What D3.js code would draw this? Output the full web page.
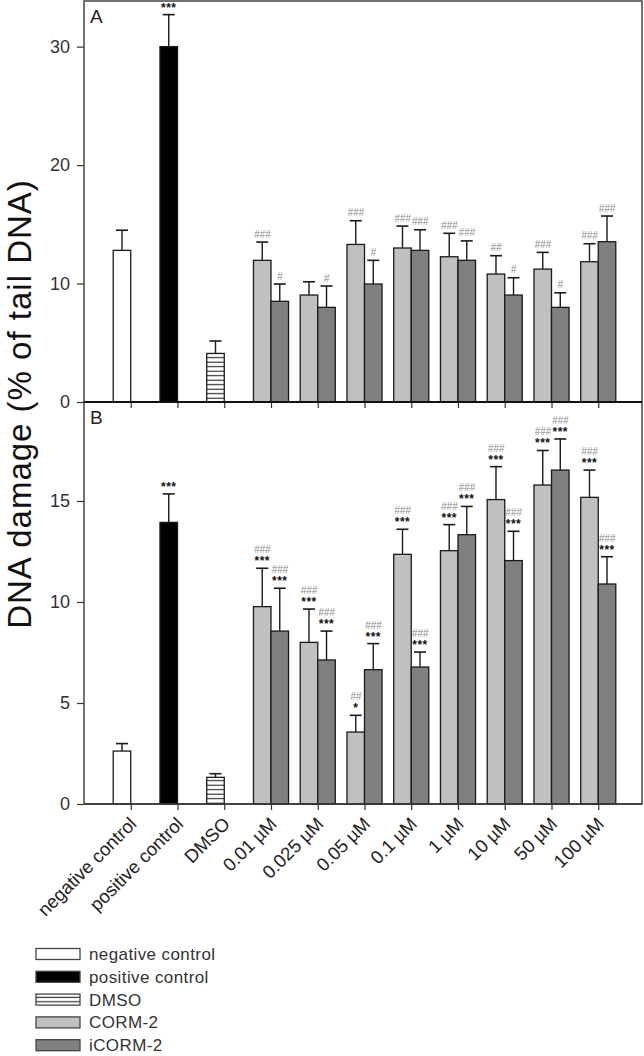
<!DOCTYPE html>
<html><head><meta charset="utf-8">
<script src="https://cdn.jsdelivr.net/npm/d3@7"></script>
<style>
body{margin:0;background:#fff}
svg{display:block}
text{font-family:"Liberation Sans",Arial,Helvetica,sans-serif}
</style>
</head><body>
<svg id="chart" width="644" height="1056"></svg>
<script>
// ---------------- data ----------------
const categories = ["negative control","positive control","DMSO","0.01 µM","0.025 µM","0.05 µM","0.1 µM","1 µM","10 µM","50 µM","100 µM"];
const controls = ["negative control","positive control","DMSO"];
const concentrations = ["0.01 µM","0.025 µM","0.05 µM","0.1 µM","1 µM","10 µM","50 µM","100 µM"];

// Panel A
const controlsA = [12.8, 30.0, 4.1];
const controlsA_err = [1.7, 2.7, 1.05];
const controlsA_stars = ["", "***", ""];
const cormA = [11.96, 9.03, 13.3, 13.0, 12.26, 10.8, 11.22, 11.84];
const cormA_err = [1.54, 1.12, 2.0, 1.85, 1.98, 1.55, 1.41, 1.52];
const cormA_hash = ["###", "", "###", "###", "###", "##", "###", "###"];
const icormA = [8.5, 7.99, 9.96, 12.8, 11.96, 9.03, 7.99, 13.53];
const icormA_err = [1.46, 1.8, 2.0, 1.74, 1.64, 1.46, 1.23, 2.17];
const icormA_hash = ["#", "#", "#", "###", "###", "#", "#", "###"];
const ticksA = [0, 10, 20, 30];

// Panel B
const controlsB = [2.62, 13.94, 1.32];
const controlsB_err = [0.37, 1.41, 0.18];
const controlsB_stars = ["", "***", ""];
const cormB = [9.77, 8.0, 3.56, 12.36, 12.54, 15.07, 15.79, 15.18];
const cormB_err = [1.9, 1.65, 0.83, 1.24, 1.29, 1.63, 1.71, 1.35];
const cormB_stars = ["***", "***", "*", "***", "***", "***", "***", "***"];
const cormB_hash = ["###", "###", "##", "###", "###", "###", "###", "###"];
const icormB = [8.56, 7.13, 6.65, 6.78, 13.33, 12.05, 16.53, 10.89];
const icormB_err = [2.12, 1.43, 1.29, 0.74, 1.4, 1.45, 1.54, 1.35];
const icormB_stars = ["***", "***", "***", "***", "***", "***", "***", "***"];
const icormB_hash = ["###", "###", "###", "###", "###", "###", "###", "###"];
const ticksB = [0, 5, 10, 15];

const legendLabels = ["negative control","positive control","DMSO","CORM-2","iCORM-2"];

// ---------------- styles ----------------
const fills = {neg:"#ffffff", pos:"#000000", dmso:"url(#stripes)", corm:"#c0c0c0", icorm:"#808080"};
const controlFills = [fills.neg, fills.pos, fills.dmso];
const legendFills = [fills.neg, fills.pos, fills.dmso, fills.corm, fills.icorm];

const svg = d3.select("#chart");
const defs = svg.append("defs");
const pat = defs.append("pattern").attr("id","stripes").attr("patternUnits","userSpaceOnUse")
  .attr("width", 10).attr("height", 4.5);
pat.append("rect").attr("width",10).attr("height",4.5).attr("fill","#fff");
pat.append("line").attr("x1",0).attr("x2",10).attr("y1",2.2).attr("y2",2.2)
  .attr("stroke","#222").attr("stroke-width",1.1);

const left = 84, right = 642;
const x = d3.scalePoint().domain(categories).range([left, 645]).padding(1);
const bw = x.step() * 0.375;

const yA = d3.scaleLinear().domain([0, 33.85]).range([402, 1]);
const yB = d3.scaleLinear().domain([0, 19.9]).range([804, 402]);

function buildBars(ctrl, ctrlErr, ctrlStars, corm, cormErr, cormStars, cormHash, icorm, icormErr, icormStars, icormHash) {
  const bars = [];
  controls.forEach((c, i) => bars.push({cat:c, slot:0, v:ctrl[i], e:ctrlErr[i], fill:controlFills[i], stars:ctrlStars[i], hash:""}));
  concentrations.forEach((c, i) => {
    bars.push({cat:c, slot:0, v:corm[i], e:cormErr[i], fill:fills.corm, stars:cormStars ? cormStars[i] : "", hash:cormHash[i]});
    bars.push({cat:c, slot:1, v:icorm[i], e:icormErr[i], fill:fills.icorm, stars:icormStars ? icormStars[i] : "", hash:icormHash[i]});
  });
  return bars;
}

function drawPanel(y, bars, ticks, label) {
  const g = svg.append("g");
  const bx = d => x(d.cat) - (d.slot === 0 ? bw : 0);
  g.selectAll("rect.bar").data(bars).join("rect")
    .attr("x", bx).attr("width", bw)
    .attr("y", d => y(d.v)).attr("height", d => y(0) - y(d.v))
    .attr("fill", d => d.fill).attr("stroke", "#1a1a1a").attr("stroke-width", 1.3);
  // error bars
  const eb = g.selectAll("g.err").data(bars).join("g");
  eb.append("line").attr("x1", d => bx(d) + bw/2).attr("x2", d => bx(d) + bw/2)
    .attr("y1", d => y(d.v)).attr("y2", d => y(d.v + d.e))
    .attr("stroke", "#1a1a1a").attr("stroke-width", 1.4);
  eb.append("line").attr("x1", d => bx(d) + bw/2 - 6).attr("x2", d => bx(d) + bw/2 + 6)
    .attr("y1", d => y(d.v + d.e)).attr("y2", d => y(d.v + d.e))
    .attr("stroke", "#1a1a1a").attr("stroke-width", 1.6);
  // significance labels
  eb.filter(d => d.stars).append("text")
    .attr("x", d => bx(d) + bw/2).attr("y", d => y(d.v + d.e) - 3)
    .attr("text-anchor", "middle").attr("font-size", 12).attr("font-weight", "bold")
    .attr("letter-spacing", 0.5).attr("fill", "#111").text(d => d.stars);
  eb.filter(d => d.hash).append("text")
    .attr("x", d => bx(d) + bw/2).attr("y", d => y(d.v + d.e) - (d.stars ? 15 : 4.5))
    .attr("text-anchor", "middle").attr("font-size", 10).attr("font-style", "italic")
    .attr("fill", "#8c8c8c").text(d => d.hash);
  // y axis
  const ya = g.append("g").attr("transform", `translate(${left},0)`)
    .call(d3.axisLeft(y).tickValues(ticks).tickSize(7).tickPadding(7).tickSizeOuter(0));
  ya.select(".domain").remove();
  ya.selectAll(".tick line").attr("stroke", "#333").attr("stroke-width", 1.2);
  ya.selectAll(".tick text").attr("font-size", 18).attr("fill", "#333")
    .attr("font-family", "'Liberation Sans',Arial,sans-serif");
  // x axis ticks
  const xa = g.append("g").attr("transform", `translate(0,${y(0)})`)
    .call(d3.axisBottom(x).tickSize(6).tickFormat(""));
  xa.select(".domain").remove();
  xa.selectAll(".tick line").attr("stroke", "#333").attr("stroke-width", 1.2);
  // panel letter
  g.append("text").attr("x", 90).attr("y", y.range()[1] + 22).attr("font-size", 19)
    .attr("fill", "#222").text(label);
  return g;
}

drawPanel(yA, buildBars(controlsA, controlsA_err, controlsA_stars, cormA, cormA_err, null, cormA_hash, icormA, icormA_err, null, icormA_hash), ticksA, "A");
drawPanel(yB, buildBars(controlsB, controlsB_err, controlsB_stars, cormB, cormB_err, cormB_stars, cormB_hash, icormB, icormB_err, icormB_stars, icormB_hash), ticksB, "B");

// frames
svg.append("rect").attr("x", left).attr("y", 1).attr("width", right - left).attr("height", 803)
  .attr("fill", "none").attr("stroke", "#444").attr("stroke-width", 1.5);
svg.append("line").attr("x1", left).attr("x2", right).attr("y1", yA(0)).attr("y2", yA(0))
  .attr("stroke", "#111").attr("stroke-width", 2.2);
svg.append("line").attr("x1", left).attr("x2", right).attr("y1", yB(0)).attr("y2", yB(0))
  .attr("stroke", "#333").attr("stroke-width", 1.5);

// x labels
svg.append("g").selectAll("text").data(categories).join("text")
  .attr("transform", d => `translate(${x(d) + 7},${825}) rotate(-45)`)
  .attr("text-anchor", "end").attr("font-size", 18.5).attr("fill", "#222").text(d => d);

// y title
svg.append("text").attr("transform", "translate(31,404) rotate(-90)")
  .attr("text-anchor", "middle").attr("font-size", 33).attr("letter-spacing", 1)
  .attr("fill", "#111")
  .text("DNA damage (% of tail DNA)");

// legend
const lg = svg.append("g").selectAll("g").data(legendLabels).join("g")
  .attr("transform", (d, i) => `translate(36,${954 + i * 22.8})`);
lg.append("rect").attr("x", 0).attr("y", -5.5).attr("width", 44).attr("height", 11)
  .attr("fill", (d, i) => legendFills[i]).attr("stroke", "#444").attr("stroke-width", 1.3);
lg.append("text").attr("x", 53).attr("y", 0).attr("dy", "0.35em").attr("font-size", 17)
  .attr("letter-spacing", 0.4).attr("fill", "#333").text(d => d);
</script>
</body></html>
